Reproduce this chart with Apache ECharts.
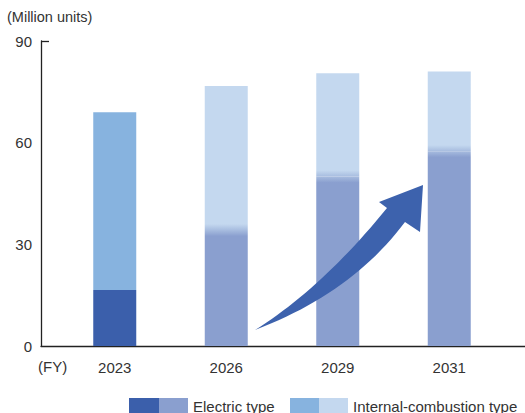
<!DOCTYPE html>
<html>
<head>
<meta charset="utf-8">
<script src="https://cdn.jsdelivr.net/npm/echarts@6/dist/echarts.min.js"></script>
<style>
html,body{margin:0;padding:0;background:#fff;}
#chart{width:525px;height:413px;}
</style>
</head>
<body>
<div id="chart"></div>
<script>
// ---- data ----
const categories = ['2023', '2026', '2029', '2031'];
const electric2023 = [16.5, '-', '-', '-'];
const electricFuture = ['-', 34.2, 50, 57.5];
const ice2023 = [52.5, '-', '-', '-'];
const iceFuture = ['-', 42.5, 30.5, 23.5];
const yTicks = [0, 30, 60, 90];

const C_DARK = '#3b5fab';
const C_LIGHT = '#87b3df';
const C_PERI = '#8a9fcf';
const C_PALE = '#c4d8ef';
const C_MID = '#a7bcdf';
const TEXT = '#333333';
const FONT = 'Liberation Sans, Arial, Helvetica, sans-serif';
const BLEND = 1.8; // units of soft blend at boundary

function grad(stops) {
  return { type: 'linear', x: 0, y: 0, x2: 0, y2: 1, colorStops: stops };
}
function iceItem(v) {
  if (v === '-') return v;
  const f = Math.max(0, 1 - BLEND / v);
  return { value: v, itemStyle: { color: grad([
    { offset: 0, color: C_PALE }, { offset: f, color: C_PALE }, { offset: 1, color: C_MID }]) } };
}
function elecItem(v) {
  if (v === '-') return v;
  const f = Math.min(1, BLEND / v);
  return { value: v, itemStyle: { color: grad([
    { offset: 0, color: C_MID }, { offset: f, color: C_PERI }, { offset: 1, color: C_PERI }]) } };
}

// decorative curved arrow outline (quadratic curves sampled)
function quad(p0, c, p1, n) {
  const pts = [];
  for (let i = 0; i <= n; i++) {
    const t = i / n, u = 1 - t;
    pts.push([u * u * p0[0] + 2 * u * t * c[0] + t * t * p1[0], u * u * p0[1] + 2 * u * t * c[1] + t * t * p1[1]]);
  }
  return pts;
}
const arrowPts = [].concat(
  quad([255, 330], [322, 288], [387, 208], 24),
  [[379, 202], [423, 185], [420, 232]],
  quad([405, 222], [352, 293], [255, 330], 24)
);

const chart = echarts.init(document.getElementById('chart'), null, { renderer: 'svg' });

const legendBase = {
  top: 398, padding: 0, itemWidth: 30, itemHeight: 16, icon: 'rect', itemGap: 0,
  selectedMode: false,
  textStyle: { color: TEXT, fontSize: 15, fontFamily: FONT }
};

chart.setOption({
  animation: false,
  title: {
    text: '(Million units)', left: 7, top: 9, padding: 0,
    textStyle: { color: TEXT, fontSize: 14.5, fontWeight: 'normal', fontFamily: FONT }
  },
  legend: [
    Object.assign({}, legendBase, { left: 129, data: ['Electric type (FY2023)'], formatter: () => '' }),
    Object.assign({}, legendBase, { left: 159, itemWidth: 29, data: ['Electric type'] }),
    Object.assign({}, legendBase, { left: 290, data: ['Internal-combustion type (FY2023)'], formatter: () => '' }),
    Object.assign({}, legendBase, { left: 319, itemWidth: 29, data: ['Internal-combustion type'] })
  ],
  grid: [
    { left: 41, right: 0, top: 41, bottom: 67 },
    { left: 59, right: 20, top: 41, bottom: 67 }
  ],
  xAxis: [
    { type: 'value', gridIndex: 0, min: 0, max: 1, axisLabel: { show: false }, axisTick: { show: false },
      splitLine: { show: false }, axisLine: { show: true, onZero: false, lineStyle: { color: '#222', width: 1.3 } } },
    { type: 'category', gridIndex: 1, data: categories, axisLine: { show: false }, axisTick: { show: false },
      axisLabel: { color: TEXT, fontSize: 15, fontFamily: FONT, margin: 14 } }
  ],
  yAxis: [
    { type: 'value', gridIndex: 0, min: 0, max: 90, interval: 30,
      axisLine: { show: true, lineStyle: { color: '#222', width: 1.3 } },
      axisTick: { show: true, inside: true, length: 8, customValues: [90], lineStyle: { color: '#222', width: 1.3 } },
      axisLabel: { color: TEXT, fontSize: 15, fontFamily: FONT, margin: 9, customValues: yTicks, padding: [5, 0, 0, 0] },
      splitLine: { show: false } },
    { type: 'value', gridIndex: 1, min: 0, max: 90, interval: 30, show: false, splitLine: { show: false } }
  ],
  series: [
    { name: 'Electric type (FY2023)', type: 'bar', xAxisIndex: 1, yAxisIndex: 1, stack: 'a', barWidth: 43,
      itemStyle: { color: C_DARK }, data: electric2023 },
    { name: 'Electric type', type: 'bar', xAxisIndex: 1, yAxisIndex: 1, stack: 'a', barWidth: 43,
      itemStyle: { color: C_PERI }, data: electricFuture.map(elecItem) },
    { name: 'Internal-combustion type (FY2023)', type: 'bar', xAxisIndex: 1, yAxisIndex: 1, stack: 'a', barWidth: 43,
      itemStyle: { color: C_LIGHT }, data: ice2023 },
    { name: 'Internal-combustion type', type: 'bar', xAxisIndex: 1, yAxisIndex: 1, stack: 'a', barWidth: 43,
      itemStyle: { color: C_PALE }, data: iceFuture.map(iceItem) }
  ],
  graphic: [
    { type: 'text', left: 38, top: 359, style: { text: '(FY)', fill: TEXT, fontSize: 15, fontFamily: FONT } },
    { type: 'polygon', z: 10, shape: { points: arrowPts }, style: { fill: '#3d62ad' } }
  ]
});
</script>
</body>
</html>
